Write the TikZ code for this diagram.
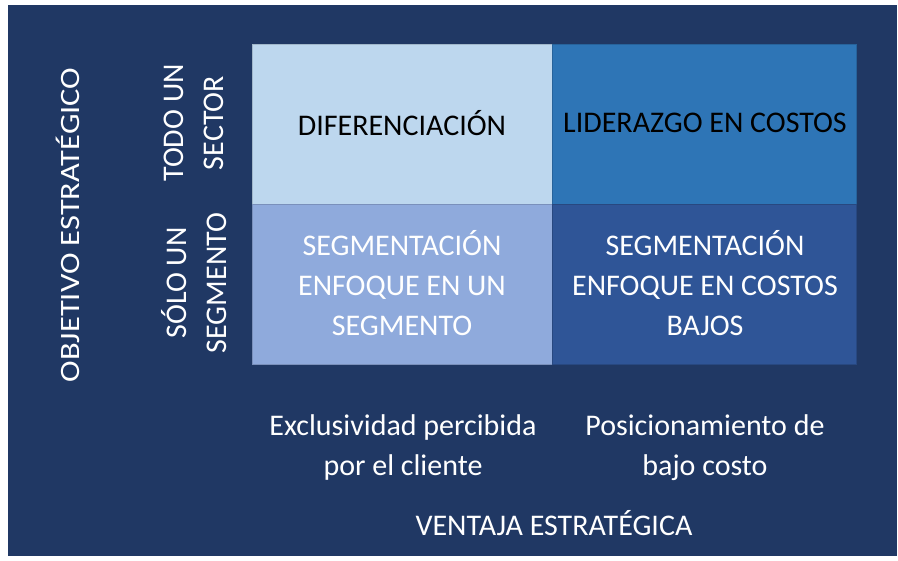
\documentclass[tikz,border=0pt]{standalone}
\usepackage{fontspec}
\setmainfont{Carlito}
\definecolor{navy}{HTML}{203864}
\definecolor{cellA}{HTML}{BDD7EE}
\definecolor{cellB}{HTML}{2E75B6}
\definecolor{cellC}{HTML}{8FAADC}
\definecolor{cellD}{HTML}{2F5597}
\tikzset{
  cell/.style={draw=#1!85!black, line width=0.8pt, fill=#1},
  celltext/.style={align=center, font=\fontsize{30}{40}\selectfont, inner sep=0pt},
  whitetext/.style={celltext, text=white},
}
\begin{document}
\begin{tikzpicture}[x=1pt, y=-1pt]
\useasboundingbox (0,0) rectangle (898,561);
\fill[white] (0,0) rectangle (898,561);
\fill[navy] (8,5) rectangle (897,556);
% cells
\draw[cell=cellA] (252,44) rectangle (552,204);
\draw[cell=cellB] (552,44) rectangle (856,204);
\draw[cell=cellC] (252,204) rectangle (552,364);
\draw[cell=cellD] (552,204) rectangle (856,364);
% cell texts
\node[celltext] (dif) at (402,123) {DIFERENCIACIÓN};
\node[celltext] (lid) at (705,123) {LIDERAZGO EN COSTOS};
\node[whitetext] (seg) at (402,283) {SEGMENTACIÓN\\ENFOQUE EN UN\\SEGMENTO};
\node[whitetext] (segc) at (705,283) {SEGMENTACIÓN\\ENFOQUE EN COSTOS\\BAJOS};
% left labels
\node[whitetext, rotate=90, font=\fontsize{28}{34}\selectfont] (obj) at (68,225) {\scalebox{1.16}[1]{OBJETIVO ESTRATÉGICO}};
\node[whitetext, rotate=90] (todo) at (194,123) {TODO UN\\SECTOR};
\node[whitetext, rotate=90] (solo) at (194,283) {SÓLO UN\\SEGMENTO};
% bottom labels
\node[whitetext] (excl) at (403,448) {Exclusividad percibida\\por el cliente};
\node[whitetext] (pos) at (705,448) {Posicionamiento de\\bajo costo};
\node[whitetext] (vent) at (554,523) {VENTAJA ESTRATÉGICA};
\end{tikzpicture}
\end{document}
